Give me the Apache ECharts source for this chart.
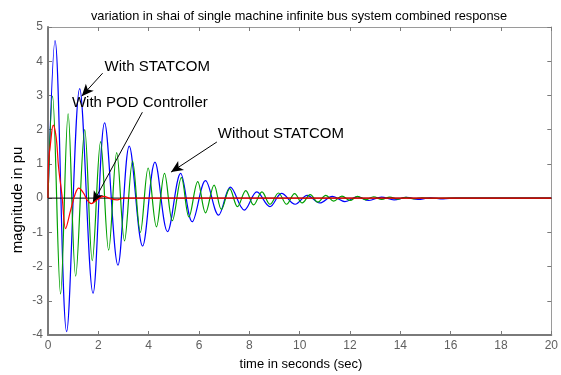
<!DOCTYPE html>
<html>
<head>
<meta charset="utf-8">
<script src="https://cdn.jsdelivr.net/npm/echarts@6/dist/echarts.min.js"></script>
<style>
html,body{margin:0;padding:0;background:#fff;}
#chart{width:561px;height:375px;}
</style>
</head>
<body>
<div id="chart"></div>
<script>
// ---- data ----
const xTicks = [0, 2, 4, 6, 8, 10, 12, 14, 16, 18, 20];
const yTicks = [-4, -3, -2, -1, 0, 1, 2, 3, 4, 5];

// blue trace
const blueT = [0, 0.28, 0.74, 1.26, 1.79, 2.25, 2.78, 3.23, 3.76, 4.25, 4.75, 5.27, 5.73, 6.26, 6.78, 7.25, 7.8, 8.3, 8.82, 9.28, 9.82, 10.3, 10.8, 11.3, 11.8, 12.3, 12.75, 13.25, 13.75, 14.25, 14.7, 15.2, 15.7, 16.2, 20];
const blueV = [0, 4.6, -3.9, 3.2, -2.78, 2.2, -1.96, 1.52, -1.4, 1.05, -0.98, 0.72, -0.69, 0.51, -0.5, 0.32, -0.35, 0.18, -0.25, 0.14, -0.18, 0.08, -0.14, 0.05, -0.1, 0.04, -0.07, 0.03, -0.05, 0.02, -0.04, 0.01, -0.02, 0, 0];

// green trace
const greenT = [0, 0.18, 0.5, 0.8, 1.1, 1.46, 1.76, 2.09, 2.41, 2.73, 3.04, 3.36, 3.67, 3.98, 4.31, 4.63, 4.94, 5.3, 5.6, 5.95, 6.26, 6.6, 6.89, 7.22, 7.53, 7.86, 8.17, 8.5, 8.82, 9.16, 9.48, 9.8, 10.1, 10.42, 10.72, 11.04, 11.35, 11.68, 12.0, 12.3, 12.62, 12.94, 13.26, 13.58, 13.9, 14.22, 14.54, 14.86, 15.2, 16, 20];
const greenV = [0, 2.98, -2.8, 2.46, -2.28, 2.0, -1.83, 1.65, -1.52, 1.33, -1.25, 1.08, -1.0, 0.88, -0.84, 0.72, -0.66, 0.6, -0.55, 0.48, -0.43, 0.38, -0.33, 0.28, -0.25, 0.22, -0.2, 0.18, -0.18, 0.15, -0.18, 0.13, -0.14, 0.1, -0.12, 0.08, -0.09, 0.06, -0.07, 0.05, -0.05, 0.04, -0.04, 0.03, -0.03, 0.02, -0.02, 0.01, -0.01, 0, 0];

// red trace
const redT = [0, 0.02, 0.1, 0.21, 0.29, 0.35, 0.42, 0.56, 0.7, 0.9, 1.09, 1.22, 1.42, 1.55, 1.72, 1.95, 2.2, 2.5, 2.75, 3.0, 20];
const redV = [0, 1.0, 1.6, 2.13, 1.94, 1.6, 0.9, 0.05, -0.89, -0.35, 0.14, 0.29, 0.14, -0.05, -0.16, -0.05, 0.05, -0.02, -0.05, 0, 0];

// zero reference line
const zeroT = [0, 20];
const zeroV = [0, 0];

// texts
const titleText = 'variation in shai of single machine infinite bus system combined response';
const xName = 'time in seconds (sec)';
const yName = 'magnitude in pu';
const labels = ['With STATCOM', 'With POD Controller', 'Without STATCOM'];

// ---- layout / style config ----
const FONT = 'Liberation Sans, Arial, Helvetica, sans-serif';
const labelAnchors = [[2.25, 3.83], [0.95, 2.77], [6.75, 1.89]];
const arrows = [
  [[2.17, 3.65], [1.34, 2.98]],
  [[3.75, 2.51], [1.78, -0.15]],
  [[6.71, 1.64], [4.89, 0.76]]
];

function zip(t, v) { return t.map((x, i) => [x, v[i]]); }

const gray = '#7a7a7a';
const lightGray = '#9a9a9a';
const tickLabel = { color: '#606060', fontSize: 12, fontFamily: FONT };

const chart = echarts.init(document.getElementById('chart'), null, { renderer: 'canvas' });

const option = {
  animation: false,
  backgroundColor: '#ffffff',
  grid: { left: 48, right: 6, top: 27, bottom: 40 },
  xAxis: [{
    type: 'value', min: xTicks[0], max: xTicks[xTicks.length - 1], interval: 2,
    axisLine: { show: true, onZero: false, lineStyle: { color: gray, width: 2 } },
    axisTick: { show: true, inside: true, length: 4, lineStyle: { color: gray } },
    axisLabel: Object.assign({ margin: 5 }, tickLabel),
    splitLine: { show: false }
  }, {
    type: 'value', position: 'top', min: xTicks[0], max: xTicks[xTicks.length - 1], interval: 2,
    axisLine: { show: true, onZero: false, lineStyle: { color: lightGray, width: 1 } },
    axisTick: { show: true, inside: true, length: 4, lineStyle: { color: gray } },
    axisLabel: { show: false }, splitLine: { show: false }
  }],
  yAxis: [{
    type: 'value', min: yTicks[0], max: yTicks[yTicks.length - 1], interval: 1,
    axisLine: { show: true, onZero: false, lineStyle: { color: gray, width: 2 } },
    axisTick: { show: true, inside: true, length: 4, lineStyle: { color: gray } },
    axisLabel: Object.assign({ margin: 5 }, tickLabel),
    splitLine: { show: false }
  }, {
    type: 'value', position: 'right', min: yTicks[0], max: yTicks[yTicks.length - 1], interval: 1,
    axisLine: { show: true, onZero: false, lineStyle: { color: lightGray, width: 1 } },
    axisTick: { show: true, inside: true, length: 4, lineStyle: { color: gray } },
    axisLabel: { show: false }, splitLine: { show: false }
  }],
  series: [
    {
      type: 'line', name: 'blue', data: zip(blueT, blueV), smooth: 0.36,
      showSymbol: false, symbol: 'none', lineStyle: { color: '#0000ff', width: 1.2 }, z: 2
    },
    {
      type: 'line', name: 'green', data: zip(greenT, greenV), smooth: 0.36,
      showSymbol: false, symbol: 'none', lineStyle: { color: '#00a000', width: 1.2 }, z: 3
    },
    {
      type: 'line', name: 'zero', data: zip(zeroT, zeroV),
      showSymbol: false, symbol: 'none', lineStyle: { color: '#000000', width: 1 }, z: 4,
      markLine: {
        silent: true, symbol: ['none', 'arrow'], symbolSize: [8, 12],
        label: { show: false },
        lineStyle: { color: '#000', width: 1, type: 'solid' },
        data: arrows.map(a => [{ coord: a[0] }, { coord: a[1] }])
      }
    },
    {
      type: 'line', name: 'red', data: zip(redT, redV), smooth: 0.36,
      showSymbol: false, symbol: 'none', lineStyle: { color: '#ff0000', width: 1.2 }, z: 5
    }
  ]
};
chart.setOption(option);

const graphics = labels.map((txt, i) => {
  const p = chart.convertToPixel({ gridIndex: 0 }, labelAnchors[i]);
  return {
    type: 'text', x: p[0], y: p[1], z: 100,
    style: { text: txt, fontSize: 15, fontFamily: FONT, fill: '#000', textVerticalAlign: 'middle', textAlign: 'left' }
  };
});
graphics.push({
  type: 'text', x: 299, y: 16, z: 100,
  style: { text: titleText, fontSize: 12.8, fontFamily: FONT, fill: '#000', textAlign: 'center', textVerticalAlign: 'middle' }
});
graphics.push({
  type: 'text', x: 301, y: 364, z: 100,
  style: { text: xName, fontSize: 13, fontFamily: FONT, fill: '#000', textAlign: 'center', textVerticalAlign: 'middle' }
});
graphics.push({
  type: 'text', x: 18, y: 200, rotation: Math.PI / 2, z: 100,
  style: { text: yName, fontSize: 15, fontFamily: FONT, fill: '#000', textAlign: 'center', textVerticalAlign: 'middle' }
});
chart.setOption({ graphic: graphics });
</script>
</body>
</html>
